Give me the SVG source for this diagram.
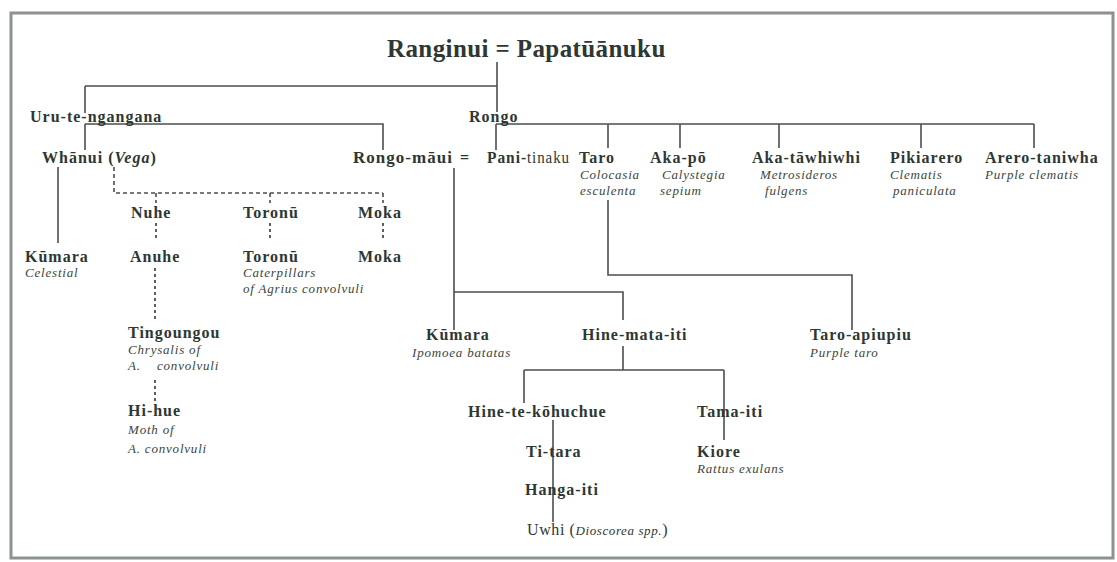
<svg xmlns="http://www.w3.org/2000/svg" width="1117" height="562" viewBox="0 0 1117 562">
<style>
text{font-family:"Liberation Serif","Times New Roman",serif;fill:#2d3734}
.t{font-size:25px;font-weight:bold;letter-spacing:0.4px}
.b{font-size:16px;font-weight:bold;letter-spacing:1px}
.n{font-size:16px;letter-spacing:0.6px}
.i{font-size:13px;font-style:italic;letter-spacing:0.8px;fill:#3b4541}
.ln{stroke:#4a504e;stroke-width:1.6;fill:none}
.ds{stroke:#4a504e;stroke-width:1.6;fill:none;stroke-dasharray:4 3}
.dt{stroke:#4a504e;stroke-width:1.8;fill:none;stroke-dasharray:3 3}
</style>
<rect x="0" y="0" width="1117" height="562" fill="#ffffff"/>
<rect x="11" y="13" width="1102" height="545" fill="none" stroke="#8c9290" stroke-width="3"/>
<g id="connectors">
<path class="ln" d="M497 62V112M85 86H497M85 86V113"/>
<path class="ln" d="M85 124V150M85 124H383V150"/>
<path class="ln" d="M496 124H1034M496 124V150M608 124V148M680 124V148M779 124V148M921 124V148M1034 124V148"/>
<path class="ln" d="M58 167V243"/>
<path class="ds" d="M114 167V193H383M156 193V203M270 193V203M383 193V203"/>
<path class="dt" d="M156 223V240M270 223V240M383 223V240"/>
<path class="dt" d="M155 268V322M155 380V402"/>
<path class="ln" d="M454 168V330M454 292H623V320"/>
<path class="ln" d="M608 200V275H852V330"/>
<path class="ln" d="M623 346V370M524 370H724M524 370V403M724 370V440"/>
<path class="ln" d="M553 420V522"/>
</g>
<g id="ranginui"><text class="t" x="387" y="57">Ranginui = Papatūānuku</text></g>
<g id="uru"><text class="b" x="30" y="122">Uru-te-ngangana</text></g>
<g id="rongo"><text class="b" x="469" y="122">Rongo</text></g>
<g id="whanui"><text class="b" x="42" y="163">Whānui (<tspan font-style="italic">Vega</tspan>)</text></g>
<g id="rongomaui"><text class="b" y="163"><tspan x="353" textLength="100" lengthAdjust="spacingAndGlyphs">Rongo-māui</tspan><tspan x="460">=</tspan><tspan x="487" textLength="40" lengthAdjust="spacingAndGlyphs">Pani-</tspan><tspan x="527" font-weight="normal" textLength="43" lengthAdjust="spacingAndGlyphs">tinaku</tspan></text></g>
<g id="taro"><text class="b" x="579" y="163">Taro</text><text class="i" x="580" y="179">Colocasia</text><text class="i" x="580" y="195">esculenta</text></g>
<g id="akapo"><text class="b" x="650" y="163">Aka-pō</text><text class="i" x="662" y="179">Calystegia</text><text class="i" x="660" y="195">sepium</text></g>
<g id="akatawhiwhi"><text class="b" x="752" y="163">Aka-tāwhiwhi</text><text class="i" x="760" y="179">Metrosideros</text><text class="i" x="765" y="195">fulgens</text></g>
<g id="pikiarero"><text class="b" x="890" y="163">Pikiarero</text><text class="i" x="890" y="179">Clematis</text><text class="i" x="893" y="195">paniculata</text></g>
<g id="arerotaniwha"><text class="b" x="985" y="163">Arero-taniwha</text><text class="i" x="985" y="179">Purple clematis</text></g>
<g id="nuhe"><text class="b" x="131" y="218">Nuhe</text></g>
<g id="toronu1"><text class="b" x="243" y="218">Toronū</text></g>
<g id="moka1"><text class="b" x="358" y="218">Moka</text></g>
<g id="kumara1"><text class="b" x="25" y="262">Kūmara</text><text class="i" x="25" y="277">Celestial</text></g>
<g id="anuhe"><text class="b" x="130" y="262">Anuhe</text></g>
<g id="toronu2"><text class="b" x="243" y="262">Toronū</text><text class="i" x="243" y="277">Caterpillars</text><text class="i" x="243" y="293">of Agrius convolvuli</text></g>
<g id="moka2"><text class="b" x="358" y="262">Moka</text></g>
<g id="tingoungou"><text class="b" x="128" y="338">Tingoungou</text><text class="i" x="128" y="354">Chrysalis of</text><text class="i" x="128" y="370" xml:space="preserve">A.    convolvuli</text></g>
<g id="hihue"><text class="b" x="128" y="416">Hi-hue</text><text class="i" x="128" y="434">Moth of</text><text class="i" x="128" y="453">A. convolvuli</text></g>
<g id="kumara2"><text class="b" x="426" y="340">Kūmara</text><text class="i" x="412" y="357">Ipomoea batatas</text></g>
<g id="hinemataiti"><text class="b" x="582" y="340">Hine-mata-iti</text></g>
<g id="taroapiupiu"><text class="b" x="810" y="340">Taro-apiupiu</text><text class="i" x="810" y="357">Purple taro</text></g>
<g id="hinetekohuchue"><text class="b" x="468" y="417">Hine-te-kōhuchue</text></g>
<g id="tamaiti"><text class="b" x="697" y="417">Tama-iti</text></g>
<g id="titara"><text class="b" x="526" y="457">Ti-tara</text></g>
<g id="kiore"><text class="b" x="697" y="457">Kiore</text><text class="i" x="697" y="473">Rattus exulans</text></g>
<g id="hangaiti"><text class="b" x="525" y="495">Hanga-iti</text></g>
<g id="uwhi"><text class="n" x="527" y="535">Uwhi (<tspan font-style="italic" font-size="13px">Dioscorea spp.</tspan>)</text></g>
</svg>
